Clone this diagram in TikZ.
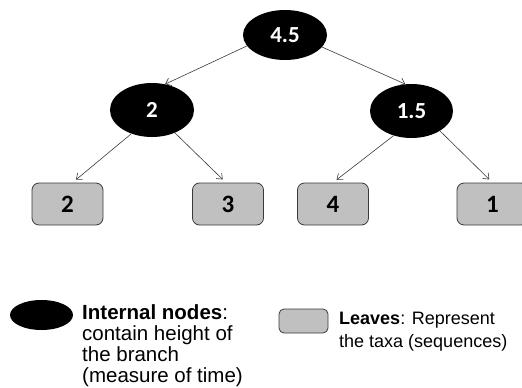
\documentclass[tikz,border=0pt]{standalone}
\usepackage{fontspec}
\setmainfont{Liberation Sans}
\newfontfamily\calfont{Carlito}
\usetikzlibrary{arrows.meta,shapes.geometric}
\definecolor{leafgray}{HTML}{C0C0C0}
\definecolor{edgegray}{HTML}{3A3A3A}
\tikzset{
  inner/.style={ellipse, fill=black, draw=none, minimum width=#1, inner sep=0pt,
    text=white, font=\calfont\bfseries\fontsize{23}{27}\selectfont},
  leafbox/.style={rectangle, rounded corners=7pt, fill=leafgray, draw=edgegray,
    line width=0.8pt, minimum width=71pt, minimum height=42pt, inner sep=0pt,
    font=\calfont\bfseries\fontsize{25}{29}\selectfont},
  arr/.style={draw=edgegray, line width=0.6pt, -{Straight Barb[length=5pt,width=8pt]}},
  legendtext/.style={anchor=north west, align=left, inner sep=0pt},
}
\begin{document}
\begin{tikzpicture}[x=1pt,y=-1pt]
\useasboundingbox (0,0) rectangle (522,388);

% internal nodes
\node[inner=84pt, minimum height=50pt] (top) at (285,35) {4.5};
\node[inner=84pt, minimum height=54pt] (n2) at (152,110) {2};
\node[inner=83pt, minimum height=54pt] (n15) at (411.5,111) {1.5};

% leaves
\node[leafbox] (l2) at (67.5,204) {2};
\node[leafbox] (l3) at (228,204) {3};
\node[leafbox] (l4) at (333,204) {4};
\node[leafbox] (l1) at (492.5,204) {1};

% branches
\draw[arr] (top.196) -- (n2.63);
\draw[arr] (top.342) -- (n15.103);
\draw[arr, shorten >=4.5pt] (n2.229) -- ([xshift=5pt]l2.north);
\draw[arr, shorten >=4.5pt] (n2.315) -- ([xshift=-2pt]l3.north);
\draw[arr, shorten >=4.5pt] (n15.234) -- (l4.north);
\draw[arr, shorten >=4.5pt] (n15.325) -- (l1.north);

% legend
\node[ellipse, fill=black, minimum width=63pt, minimum height=30pt, inner sep=0pt] (kinner) at (41.5,315) {};
\node[legendtext, font=\fontsize{20.5}{21.3}\selectfont] (tinner) at (82,304)
  {\textbf{Internal nodes}:\\contain height of\\the branch\\(measure of time)};

\node[rectangle, rounded corners=5pt, fill=leafgray, draw=edgegray, line width=0.8pt,
  minimum width=49pt, minimum height=24pt, inner sep=0pt] (kleaf) at (303.5,321) {};
\node[legendtext, font=\fontsize{18}{23}\selectfont] (tleaf) at (339,311.5)
  {\textbf{Leaves}: Represent\\the taxa (sequences)};
\end{tikzpicture}
\end{document}
